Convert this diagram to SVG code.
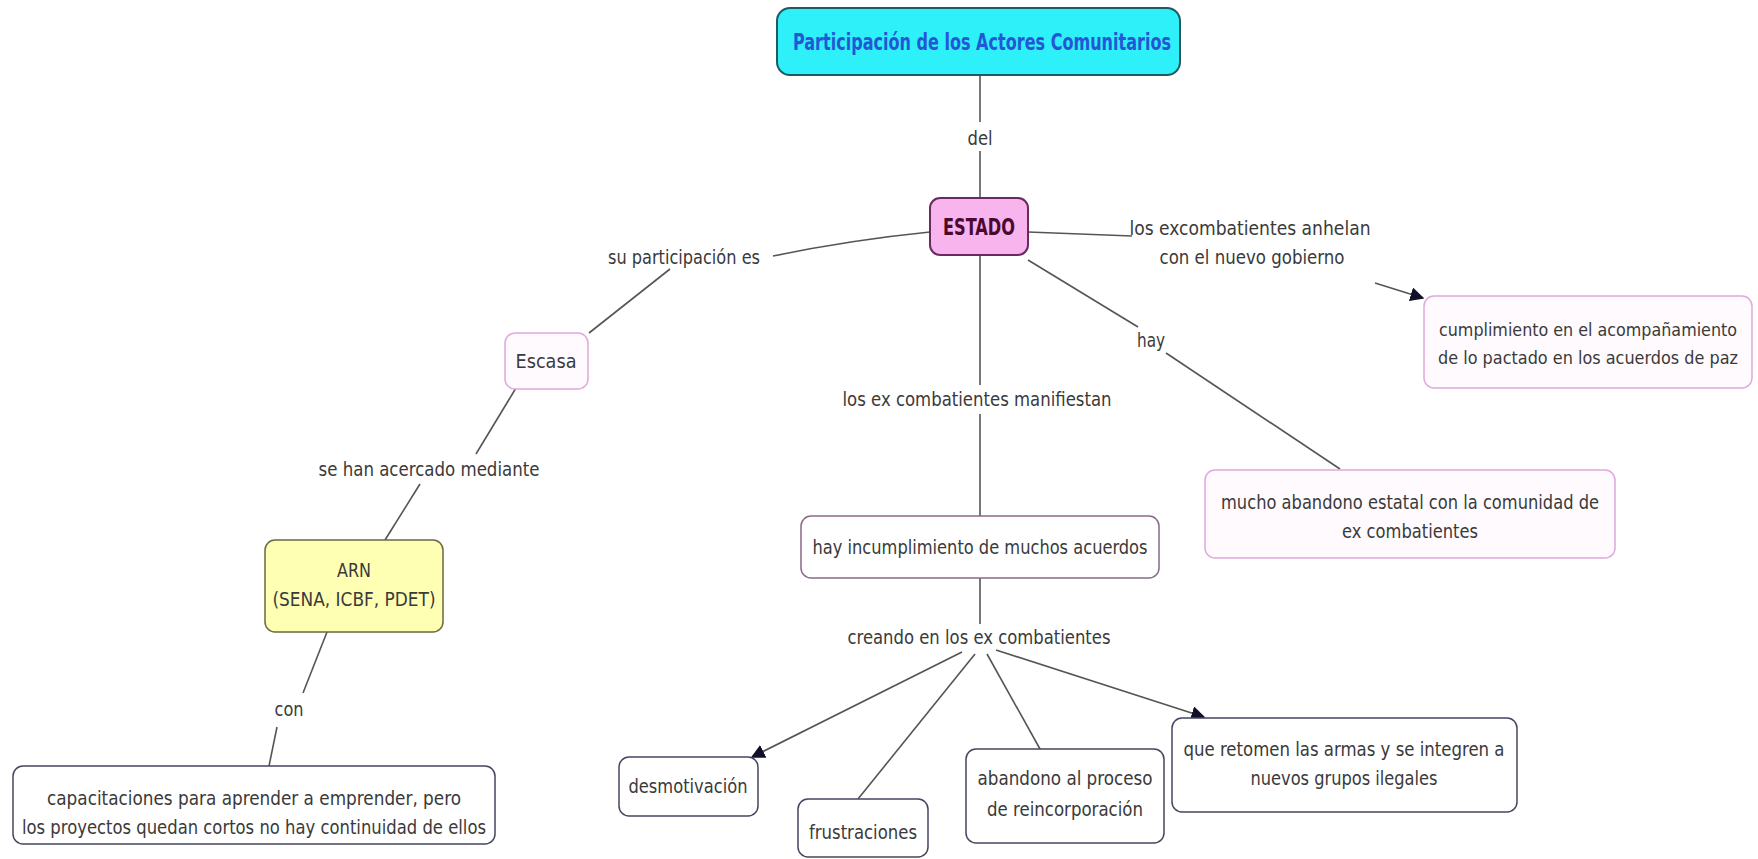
<svg xmlns="http://www.w3.org/2000/svg" width="1758" height="859" viewBox="0 0 1758 859">
<defs>
<marker id="arr" viewBox="0 0 10 10" refX="9" refY="5" markerWidth="14" markerHeight="14" markerUnits="userSpaceOnUse" orient="auto">
<path d="M0,0 L10,5 L0,10 z" fill="#10102a"/>
</marker>
<style>
.t{font-family:"DejaVu Sans Condensed","DejaVu Sans",sans-serif;font-size:20px;fill:#3a3a3a;text-anchor:middle}
.s{font-size:18px}
.b{font-family:"DejaVu Sans Condensed","DejaVu Sans",sans-serif;font-weight:bold;font-size:23px;text-anchor:middle}
.c{fill:none;stroke:#555;stroke-width:1.6}
.pk{fill:#fffafe;stroke:#e0a8dc;stroke-width:1.5}
.nv{fill:#fff;stroke:#454560;stroke-width:1.5}
</style>
</defs>
<rect width="1758" height="859" fill="#fff"/>
<g id="connectors">
<line class="c" x1="980" y1="75" x2="980" y2="122"/>
<line class="c" x1="980" y1="151" x2="980" y2="198"/>
<path class="c" d="M930,232 Q850,240 773,256"/>
<line class="c" x1="670" y1="269" x2="589" y2="333"/>
<line class="c" x1="1028" y1="232" x2="1132" y2="236"/>
<line class="c" x1="1375" y1="283" x2="1423" y2="298" marker-end="url(#arr)"/>
<line class="c" x1="1028" y1="260" x2="1138" y2="327"/>
<line class="c" x1="1166" y1="353" x2="1340" y2="469"/>
<line class="c" x1="980" y1="256" x2="980" y2="385"/>
<line class="c" x1="980" y1="414" x2="980" y2="516"/>
<line class="c" x1="516" y1="388" x2="476" y2="454"/>
<line class="c" x1="420" y1="484" x2="385" y2="540"/>
<line class="c" x1="327" y1="632" x2="303" y2="693"/>
<line class="c" x1="277" y1="727" x2="269" y2="766"/>
<line class="c" x1="980" y1="578" x2="980" y2="624"/>
<line class="c" x1="962" y1="652" x2="752" y2="757" marker-end="url(#arr)"/>
<line class="c" x1="975" y1="654" x2="858" y2="799"/>
<line class="c" x1="987" y1="654" x2="1040" y2="749"/>
<line class="c" x1="996" y1="650" x2="1204" y2="717" marker-end="url(#arr)"/>
</g>
<g id="lbl-del"><text class="t" x="980" y="145" textLength="25" lengthAdjust="spacingAndGlyphs">del</text></g>
<g id="lbl-su"><text class="t" x="684" y="264" textLength="152" lengthAdjust="spacingAndGlyphs">su participación es</text></g>
<g id="lbl-anhelan"><text class="t" x="1250" y="235" textLength="241" lengthAdjust="spacingAndGlyphs">los excombatientes anhelan</text><text class="t" x="1252" y="264" textLength="185" lengthAdjust="spacingAndGlyphs">con el nuevo gobierno</text></g>
<g id="lbl-hay"><text class="t" x="1151" y="347" textLength="28" lengthAdjust="spacingAndGlyphs">hay</text></g>
<g id="lbl-manifiestan"><text class="t" x="977" y="406" textLength="269" lengthAdjust="spacingAndGlyphs">los ex combatientes manifiestan</text></g>
<g id="lbl-acercado"><text class="t" x="429" y="476" textLength="221" lengthAdjust="spacingAndGlyphs">se han acercado mediante</text></g>
<g id="lbl-con"><text class="t" x="289" y="716" textLength="29" lengthAdjust="spacingAndGlyphs">con</text></g>
<g id="lbl-creando"><text class="t" x="979" y="644" textLength="263" lengthAdjust="spacingAndGlyphs">creando en los ex combatientes</text></g>

<g id="n-title">
<rect x="777" y="8" width="403" height="67" rx="13" fill="#2ef0f8" stroke="#1f5a60" stroke-width="2"/>
<text class="b" x="982" y="50" fill="#2456d6" textLength="378" lengthAdjust="spacingAndGlyphs">Participación de los Actores Comunitarios</text>
</g>
<g id="n-estado">
<rect x="930" y="198" width="98" height="57" rx="10" fill="#f8b4ec" stroke="#6a2a60" stroke-width="2"/>
<text class="b" x="979" y="235" fill="#4a0a30" textLength="72" lengthAdjust="spacingAndGlyphs">ESTADO</text>
</g>
<g id="n-cumplimiento">
<rect class="pk" x="1424" y="296" width="328" height="92" rx="10"/>
<text class="t s" x="1588" y="336" textLength="298" lengthAdjust="spacingAndGlyphs">cumplimiento en el acompañamiento</text>
<text class="t s" x="1588" y="364" textLength="300" lengthAdjust="spacingAndGlyphs">de lo pactado en los acuerdos de paz</text>
</g>
<g id="n-escasa">
<rect class="pk" x="505" y="333" width="83" height="56" rx="10"/>
<text class="t" x="546" y="368" textLength="61" lengthAdjust="spacingAndGlyphs">Escasa</text>
</g>
<g id="n-mucho">
<rect class="pk" x="1205" y="470" width="410" height="88" rx="10"/>
<text class="t" x="1410" y="509" textLength="378" lengthAdjust="spacingAndGlyphs">mucho abandono estatal con la comunidad de</text>
<text class="t" x="1410" y="538" textLength="136" lengthAdjust="spacingAndGlyphs">ex combatientes</text>
</g>
<g id="n-incumplimiento">
<rect x="801" y="516" width="358" height="62" rx="10" fill="#fff" stroke="#8a6a88" stroke-width="1.5"/>
<text class="t" x="980" y="554" textLength="335" lengthAdjust="spacingAndGlyphs">hay incumplimiento de muchos acuerdos</text>
</g>
<g id="n-arn">
<rect x="265" y="540" width="178" height="92" rx="10" fill="#ffffb4" stroke="#6a6a40" stroke-width="1.5"/>
<text class="t" x="354" y="577" textLength="34" lengthAdjust="spacingAndGlyphs">ARN</text>
<text class="t" x="354" y="606" textLength="163" lengthAdjust="spacingAndGlyphs">(SENA, ICBF, PDET)</text>
</g>
<g id="n-capacitaciones">
<rect class="nv" x="13" y="766" width="482" height="78" rx="10"/>
<text class="t" x="254" y="805" textLength="414" lengthAdjust="spacingAndGlyphs">capacitaciones para aprender a emprender, pero</text>
<text class="t" x="254" y="834" textLength="464" lengthAdjust="spacingAndGlyphs">los proyectos quedan cortos no hay continuidad de ellos</text>
</g>
<g id="n-desmotivacion">
<rect class="nv" x="619" y="757" width="139" height="59" rx="10"/>
<text class="t" x="688" y="793" textLength="119" lengthAdjust="spacingAndGlyphs">desmotivación</text>
</g>
<g id="n-frustraciones">
<rect class="nv" x="798" y="799" width="130" height="58" rx="10"/>
<text class="t" x="863" y="839" textLength="108" lengthAdjust="spacingAndGlyphs">frustraciones</text>
</g>
<g id="n-abandono">
<rect class="nv" x="966" y="749" width="198" height="94" rx="10"/>
<text class="t" x="1065" y="785" textLength="175" lengthAdjust="spacingAndGlyphs">abandono al proceso</text>
<text class="t" x="1065" y="816" textLength="156" lengthAdjust="spacingAndGlyphs">de reincorporación</text>
</g>
<g id="n-retomen">
<rect class="nv" x="1172" y="718" width="345" height="94" rx="10"/>
<text class="t" x="1344" y="756" textLength="321" lengthAdjust="spacingAndGlyphs">que retomen las armas y se integren a</text>
<text class="t" x="1344" y="785" textLength="187" lengthAdjust="spacingAndGlyphs">nuevos grupos ilegales</text>
</g>
</svg>
